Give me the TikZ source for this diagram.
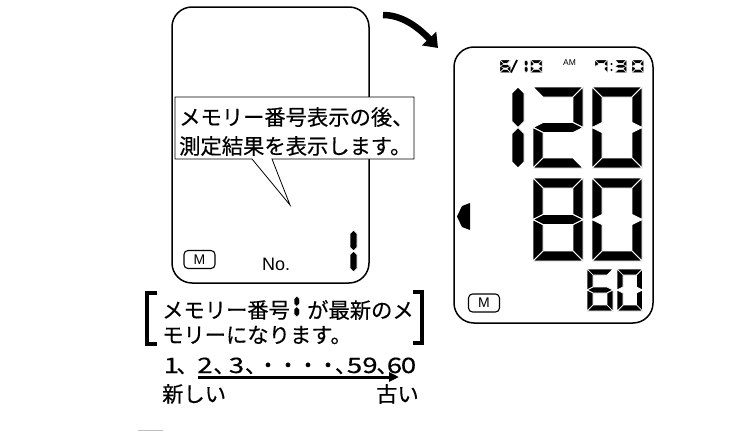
\documentclass[tikz,border=0pt]{standalone}
\usepackage{fontspec}
\usepackage{graphicx}
\newfontfamily\jp{Noto Sans CJK JP}[FakeBold=0.4]
\newfontfamily\lat{Liberation Sans}
\usetikzlibrary{arrows.meta}

\tikzset{
  disp/.style={draw=black, line width=1.5pt, rounded corners=20pt, inner sep=0pt},
  segst/.style={fill=black, draw=white, line width=0.9pt, line join=miter},
  jptext/.style={font=\jp\fontsize{21.3}{25}\selectfont, inner sep=0pt, anchor=west},
  seqt/.style={font=\jp\fontsize{21.3}{25}\selectfont, inner sep=0pt, anchor=base},
  mbox/.style={draw, line width=1.1pt, rounded corners=4pt, minimum width=31pt, minimum height=18pt, inner sep=0pt, font=\lat\fontsize{14}{14}\selectfont},
  brk/.style={line width=3.5pt},
}
\newcommand{\widedig}[1]{\scalebox{1.3}[1]{#1}}

% 7-segment digit: x, y (top-left), width, height, thickness, segment list
\newcommand{\sgseg}[1]{%
  \ifx#1a\fill[segst] (0,0) -- (\sgW,0) -- (\sgW-\sgT,\sgT) -- (\sgT,\sgT) -- cycle;\fi
  \ifx#1b\fill[segst] (\sgW,0) -- (\sgW,\sgM) -- (\sgW-\sgT,\sgM-\sgT/2) -- (\sgW-\sgT,\sgT) -- cycle;\fi
  \ifx#1c\fill[segst] (\sgW,\sgM) -- (\sgW,\sgH) -- (\sgW-\sgT,\sgH-\sgT) -- (\sgW-\sgT,\sgM+\sgT/2) -- cycle;\fi
  \ifx#1d\fill[segst] (0,\sgH) -- (\sgW,\sgH) -- (\sgW-\sgT,\sgH-\sgT) -- (\sgT,\sgH-\sgT) -- cycle;\fi
  \ifx#1e\fill[segst] (0,\sgM) -- (\sgT,\sgM+\sgT/2) -- (\sgT,\sgH-\sgT) -- (0,\sgH) -- cycle;\fi
  \ifx#1f\fill[segst] (0,0) -- (\sgT,\sgT) -- (\sgT,\sgM-\sgT/2) -- (0,\sgM) -- cycle;\fi
  \ifx#1g\fill[segst] (0,\sgM) -- (\sgT,\sgM-\sgT/2) -- (\sgW-\sgT,\sgM-\sgT/2) -- (\sgW,\sgM) -- (\sgW-\sgT,\sgM+\sgT/2) -- (\sgT,\sgM+\sgT/2) -- cycle;\fi
}
\newcommand{\sgdigit}[7][0.9pt]{%
  \begin{scope}[shift={(#2,#3)}, segst/.append style={line width=#1}]
    \pgfmathsetmacro\sgW{#4}\pgfmathsetmacro\sgH{#5}%
    \pgfmathsetmacro\sgT{#6}\pgfmathsetmacro\sgM{#5/2}%
    \foreach \s in {#7} {\expandafter\sgseg\expandafter{\s}}
  \end{scope}}
% narrow "1": x, y, width, height
\newcommand{\sgone}[5][0.9pt]{%
  \begin{scope}[shift={(#2,#3)}, segst/.append style={line width=#1}]
    \pgfmathsetmacro\sgW{#4}\pgfmathsetmacro\sgH{#5}\pgfmathsetmacro\sgM{#5/2}%
    \fill[segst] (\sgW/2,0) -- (\sgW,\sgW/2) -- (\sgW,\sgM-\sgW/2) -- (\sgW/2,\sgM) -- (0,\sgM-\sgW/2) -- (0,\sgW/2) -- cycle;
    \fill[segst] (\sgW/2,\sgM) -- (\sgW,\sgM+\sgW/2) -- (\sgW,\sgH-\sgW/2) -- (\sgW/2,\sgH) -- (0,\sgH-\sgW/2) -- (0,\sgM+\sgW/2) -- cycle;
  \end{scope}}

\begin{document}
\begin{tikzpicture}[x=1pt,y=-1pt]
  \useasboundingbox (0,0) rectangle (753,431);

  % ---------- left display ----------
  \node[disp, minimum width=197pt, minimum height=276pt] (dispL) at (270.5,145) {};
  \node[mbox] (mL) at (199.5,259.5) {M};
  \node[font=\lat\fontsize{18}{18}\selectfont, inner sep=0pt, anchor=west] (no) at (262,264.5) {No.};
  \sgone{350}{230}{7}{42}

  % callout
  \coordinate (cTL) at (175,97);
  \coordinate (cTR) at (414,97);
  \coordinate (cBR) at (414,159);
  \coordinate (cBL) at (175,159);
  \coordinate (pR) at (272,159);
  \coordinate (pL) at (252,159);
  \coordinate (pTip) at (290,205);
  \filldraw[fill=white, draw=black, line width=0.8pt] (cTL) -- (cTR) -- (cBR) -- (pR) -- (pTip) -- (pL) -- (cBL) -- cycle;
  \node[jptext] (c1) at (179,117) {メモリー番号表示の後、};
  \node[jptext] (c2) at (179,146) {測定結果を表示します。};

  % ---------- curved arrow ----------
  \coordinate (arS) at (383,15);
  \coordinate (arE) at (438,48);
  \draw[line width=6.5pt, -{Triangle[length=13pt,width=19pt]}] (arS) .. controls (402,15) and (418,27) .. (arE);

  % ---------- right display ----------
  \node[disp, minimum width=199pt, minimum height=276pt] (dispR) at (553.5,185) {};
  \node[mbox] (mR) at (484,303) {M};
  % date / time row
  \sgdigit[0.4pt]{500}{60}{10.5}{12.5}{3.2}{a,f,g,e,d,c}
  \draw[line width=1.8pt] (517,60) -- (511,72.5);
  \sgone[0.4pt]{524.3}{60}{3.6}{12.5}
  \sgdigit[0.4pt]{530.5}{60}{11.5}{12.5}{3.2}{a,b,c,d,e,f}
  \node[font=\lat\fontsize{8.5}{8.5}\selectfont, inner sep=0pt] (am) at (569.5,63) {AM};
  \sgdigit[0.4pt]{595}{60}{12.5}{12.5}{3.2}{a,b,c,f}
  \fill (611.5,64) circle (1.2pt) (611.5,70) circle (1.2pt);
  \sgdigit[0.4pt]{615}{60}{11.5}{12.5}{3.2}{a,b,g,c,d}
  \sgdigit[0.4pt]{632}{60}{11.5}{12.5}{3.2}{a,b,c,d,e,f}
  % 120
  \sgone{512}{87}{12}{81}
  \sgdigit{533}{87}{50}{81}{10}{a,b,g,e,d}
  \sgdigit{592}{87}{50}{81}{10}{a,b,c,d,e,f}
  % 80
  \sgdigit{533}{178}{50}{83}{10}{a,b,c,d,e,f,g}
  \sgdigit{592}{178}{50}{83}{10}{a,b,c,d,e,f}
  % 60
  \sgdigit[0.7pt]{587}{269}{26}{42}{6}{a,f,g,e,d,c}
  \sgdigit[0.7pt]{617}{269}{25.5}{42}{6}{a,b,c,d,e,f}
  % indicator
  \fill (470,203) -- (462,206) -- (457,216.5) -- (462,227) -- (470,230) -- cycle;

  % ---------- bottom note ----------
  \draw[brk] (157,293) -- (147,293) -- (147,344) -- (157,344);
  \draw[brk] (413,292) -- (422,292) -- (422,343) -- (413,343);
  \node[jptext] (n1a) at (162,310) {メモリー番号};
  \sgone[0.5pt]{294}{296}{5.5}{21}
  \node[jptext] (n1b) at (307,310) {が最新のメ};
  \node[jptext] (n2) at (162,335) {モリーになります。};
  % sequence 1, 2, 3, ..., 59, 60
  \node[seqt] (q1) at (171.5,373) {\widedig{1}};
  \node[seqt] (k1) at (187.2,373) {、};
  \node[seqt] (q2) at (205,373) {\widedig{2}};
  \node[seqt] (k2) at (224.2,373) {、};
  \node[seqt] (q3) at (236.5,373) {\widedig{3}};
  \node[seqt] (k3) at (255.7,373) {、};
  \node[seqt] (d1) at (268,373) {・};
  \node[seqt] (d2) at (288,373) {・};
  \node[seqt] (d3) at (308,373) {・};
  \node[seqt] (d4) at (328,373) {・};
  \node[seqt] (k4) at (345.7,373) {、};
  \node[seqt] (q5) at (354.5,373) {\widedig{5}};
  \node[seqt] (q9) at (370,373) {\widedig{9}};
  \node[seqt] (k5) at (387.2,373) {、};
  \node[seqt] (q6) at (394.5,373) {\widedig{6}};
  \node[seqt] (q0) at (408.5,373) {\widedig{0}};
  \coordinate (sqS) at (198,377);
  \coordinate (sqE) at (399,377);
  \draw[line width=3pt, -{Triangle[length=10pt,width=9pt]}] (sqS) -- (sqE);
  \node[jptext] (newer) at (162,394) {新しい};
  \node[jptext, anchor=east] (older) at (419,394) {古い};
  \draw[gray!50, line width=0.8pt] (138,430.5) -- (163,430.5);
\end{tikzpicture}
\end{document}
